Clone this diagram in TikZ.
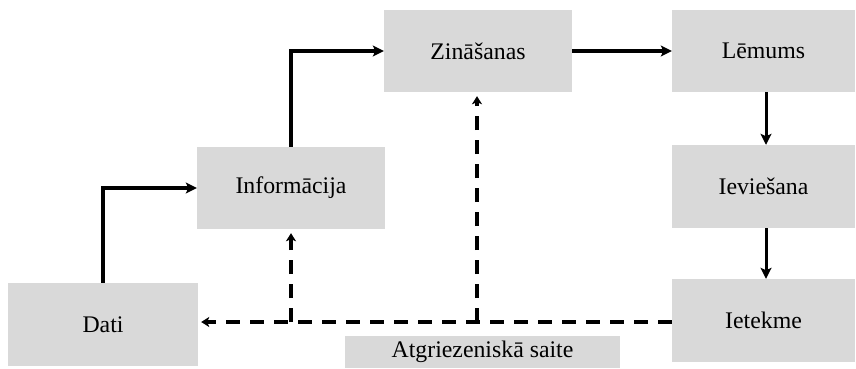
\documentclass[tikz,border=0pt]{standalone}
\usepackage{fontspec}
\setmainfont{Liberation Serif}
\usetikzlibrary{arrows.meta}
\begin{document}
\begin{tikzpicture}[x=1pt,y=-1pt,
  box/.style={fill=boxgray, draw=none, inner sep=0pt, anchor=center,
    font=\fontsize{23.8}{28}\selectfont},
  flow/.style={line width=3.2pt, -{Stealth[length=11pt,width=11pt,inset=2.5pt]}},
  flowthin/.style={line width=3pt, -{Stealth[length=11pt,width=11pt,inset=2.5pt]}},
  fb/.style={line width=3.2pt, dash pattern=on 14pt off 10pt},
  fbarrow/.style={fb, -{Stealth[length=8pt,width=10pt,inset=2pt]}}]
\definecolor{boxgray}{HTML}{D9D9D9}
\useasboundingbox (0,0) rectangle (856,369);
\node[box, minimum width=190pt, minimum height=83pt] (dati) at (103,324.5) {Dati};
\node[box, minimum width=188pt, minimum height=82pt] (info) at (291,188) {Informācija};
\node[box, minimum width=188pt, minimum height=82pt] (zin) at (478,51) {Zināšanas};
\node[box, minimum width=183pt, minimum height=82pt] (lem) at (763.5,51) {Lēmums};
\node[box, minimum width=183pt, minimum height=83pt] (iev) at (763.5,186.5) {Ieviešana};
\node[box, minimum width=183pt, minimum height=83pt] (iet) at (763.5,320.5) {Ietekme};
\node[box, minimum width=275pt, minimum height=32pt] (saite) at (482.5,352) {Atgriezeniskā saite};
\coordinate (fbleft) at (198,322);
\coordinate (jinfo) at (291,322);
\coordinate (jzin) at (477,322);
\draw[flow] (dati.north) |- (info.west);
\draw[flow] (info.north) |- (zin.west);
\draw[flow] (zin.east) -- (lem.west);
\draw[flowthin] (lem.south -| 766,0) -- (iev.north -| 766,0);
\draw[flowthin] (iev.south -| 766,0) -- (iet.north -| 766,0);
\draw[fbarrow] (iet.west |- jinfo) -- ([xshift=3pt]dati.east |- fbleft);
\draw[fbarrow] (jinfo) -- ([yshift=-4pt]info.south);
\draw[fbarrow] (jzin) -- ([yshift=-4pt]zin.south -| jzin);
\end{tikzpicture}
\end{document}
